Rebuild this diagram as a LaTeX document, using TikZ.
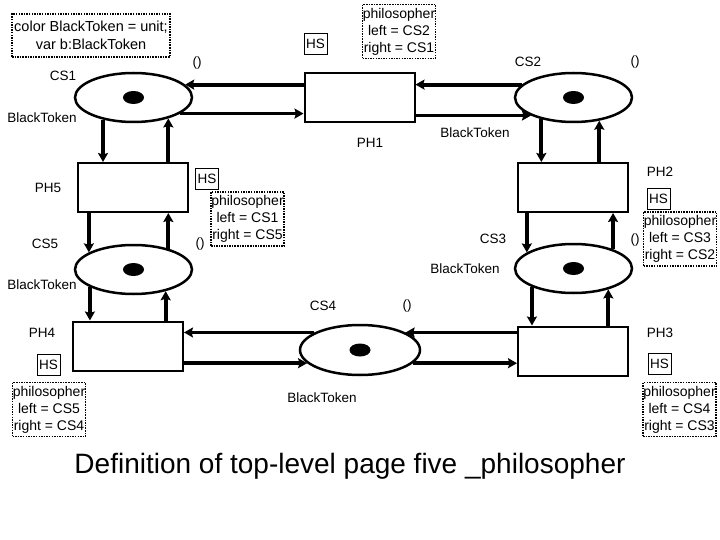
\documentclass[tikz,border=0pt]{standalone}
\usepackage{fontspec}
\setmainfont{Liberation Sans}
\usetikzlibrary{arrows.meta,shapes.geometric}

\begin{document}
\begin{tikzpicture}[x=1pt,y=-1pt,
		place/.style={draw,ellipse,line width=2.5pt,minimum width=117pt,minimum height=49pt,inner sep=0pt},
		token/.style={fill,ellipse,minimum width=21pt,minimum height=13pt,inner sep=0pt},
		trans/.style={draw,rectangle,line width=2pt,minimum width=110pt,minimum height=49pt,inner sep=0pt},
		hsbox/.style={draw,line width=0.8pt,inner sep=0pt,minimum width=23pt,minimum height=21pt,font=\fontsize{13.5}{15}\selectfont},
		inscr/.style={draw,line width=1.7pt,dash pattern=on 1.5pt off 1.1pt,align=center,inner sep=0pt,minimum width=73pt,minimum height=54pt,font=\fontsize{14}{17}\selectfont},
		lbl/.style={inner sep=0pt,font=\fontsize{13.5}{15}\selectfont},
		flow/.style={line width=3.8pt,-{Stealth[length=9pt,width=10pt,inset=1.5pt]}}]
		%%%%% START %%%%%
		\useasboundingbox (0,0) rectangle (720,540);
		
		\node[inscr,minimum width=158pt,minimum height=43pt,font=\fontsize{14.5}{18}\selectfont] (decl) at (91,35.5) {color BlackToken = unit;\\var b:BlackToken};
		
		% places
		\node[place] (cs1) at (133.5,97.5) {};
		\node[place] (cs2) at (573.5,97.5) {};
		\node[place] (cs3) at (573.5,268.5) {};
		\node[place] (cs4) at (360,350) [minimum width=120pt,minimum height=50pt] {};
		\node[place] (cs5) at (133.5,269.5) {};
		\node[token] (tok1) at (cs1) {};
		\node[token] (tok2) at (cs2) {};
		\node[token] (tok3) at (cs3) {};
		\node[token] (tok4) at (cs4) {};
		\node[token] (tok5) at (cs5) {};
		
		% transitions
		\node[trans] (ph1) at (359.5,98) {};
		\node[trans] (ph2) at (573,187.5) {};
		\node[trans] (ph3) at (573,351) {};
		\node[trans] (ph4) at (128,346) {};
		\node[trans] (ph5) at (133,187.5) {};
		
		% arcs
		\draw[flow] (ph1.west |- cs1.14) -- (cs1.14);
		\draw[flow] (cs1.341) -- (cs1.341 -| ph1.west);
		\draw[flow] (cs2.166) -- (cs2.166 -| ph1.east);
		\draw[flow] (ph1.east |- cs2.203) -- (cs2.203);
		
		\draw[flow] (cs1.216) -- (cs1.216 |- ph5.north);
		\draw[flow] (ph5.north -| cs1.329) -- (cs1.329);
		\draw[flow] (ph5.south -| cs5.159) -- (cs5.159);
		\draw[flow] (cs5.31) -- (cs5.31 |- ph5.south);
		
		\draw[flow] (cs5.202) -- (cs5.202 |- ph4.north);
		\draw[flow] (ph4.north -| cs5.326) -- (cs5.326);
		\draw[flow] (cs4.159) -- (cs4.159 -| ph4.east);
		\draw[flow] (ph4.east |- cs4.194) -- (cs4.194);
		
		\draw[flow] (ph3.west |- cs4.21) -- (cs4.21);
		\draw[flow] (cs4.346) -- (cs4.346 -| ph3.west);
		\draw[flow] (cs3.204) -- (cs3.204 |- ph3.north);
		\draw[flow] (ph3.north -| cs3.329) -- (cs3.329);
		
		\draw[flow] (ph2.south -| cs3.161) -- (cs3.161);
		\draw[flow] (cs3.26) -- (cs3.26 |- ph2.south);
		\draw[flow] (cs2.214) -- (cs2.214 |- ph2.north);
		\draw[flow] (ph2.north -| cs2.318) -- (cs2.318);
		
		% place labels
		\node[lbl] (cs1name) at (63,76) {CS1};
		\node[lbl] (cs1col) at (42,118) {BlackToken};
		\node[lbl] (cs2name) at (528,62) {CS2};
		\node[lbl] (cs2col) at (475,133) {BlackToken};
		\node[lbl] (cs3name) at (493,239) {CS3};
		\node[lbl] (cs3col) at (465,269) {BlackToken};
		\node[lbl] (cs4name) at (323,306) {CS4};
		\node[lbl] (cs4col) at (322,398) {BlackToken};
		\node[lbl] (cs5name) at (45,244) {CS5};
		\node[lbl] (cs5col) at (42,285) {BlackToken};
		
		% initial markings
		\node[lbl] (ini1) at (197,63) {()};
		\node[lbl] (ini2) at (635,62) {()};
		\node[lbl] (ini3) at (635,240) {()};
		\node[lbl] (ini4) at (407,306) {()};
		\node[lbl] (ini5) at (200,244) {()};
		
		% transition labels
		\node[lbl] (ph1name) at (370,143) {PH1};
		\node[lbl] (ph2name) at (660,172) {PH2};
		\node[lbl] (ph3name) at (660,333) {PH3};
		\node[lbl] (ph4name) at (42,333) {PH4};
		\node[lbl] (ph5name) at (48,188) {PH5};
		
		% substitution tags
		\node[hsbox] (hs1) at (315.5,43.5) {HS};
		\node[hsbox] (hs2) at (658.5,199) {HS};
		\node[hsbox] (hs3) at (659.5,364) {HS};
		\node[hsbox] (hs4) at (48.5,365) {HS};
		\node[hsbox] (hs5) at (207,178.5) {HS};
		
		\node[inscr] (sub1) at (399,31.5) {philosopher\\left = CS2\\right = CS1};
		\node[inscr] (sub2) at (680,239) {philosopher\\left = CS3\\right = CS2};
		\node[inscr] (sub3) at (679.5,409.5) {philosopher\\left = CS4\\right = CS3};
		\node[inscr] (sub4) at (49,409.5) {philosopher\\left = CS5\\right = CS4};
		\node[inscr] (sub5) at (247.5,219) {philosopher\\left = CS1\\right = CS5};
		
		\node[font=\fontsize{28}{32}\selectfont] (title) at (350,466) {Definition of top-level page five \_philosopher};
		%%%%% END %%%%%
\end{tikzpicture}
\end{document}
